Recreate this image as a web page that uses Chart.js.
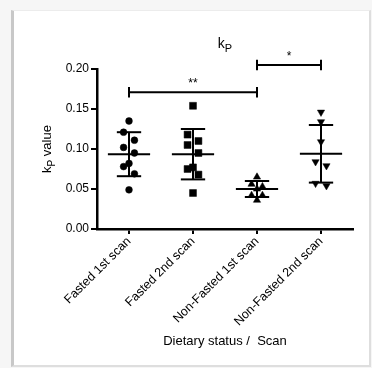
<!DOCTYPE html>
<html>
<head>
<meta charset="utf-8">
<title>kP</title>
<script src="https://cdn.jsdelivr.net/npm/chart.js@4.4.1/dist/chart.umd.min.js"></script>
<style>
  html, body { margin: 0; padding: 0; background: #f6f6f6; }
  #frame {
    position: absolute; left: 11px; top: 10px; width: 355px; height: 354px;
    background: #fff;
    border-left: 3px solid #c8c8c8; border-right: 2px solid #dedede;
    border-bottom: 2px solid #dedede; border-top: 1px solid #ececec;
  }
  #kpChart { position: absolute; left: 0; top: 0; }
</style>
</head>
<body>
<div id="frame"></div>
<canvas id="kpChart" width="372" height="368"></canvas>
<script>
// ===== DATA =====
const categories = ["Fasted 1st scan", "Fasted 2nd scan", "Non-Fasted 1st scan", "Non-Fasted 2nd scan"];
const fasted1 = [0.135, 0.121, 0.111, 0.102, 0.095, 0.082, 0.078, 0.069, 0.049];
const fasted2 = [0.154, 0.118, 0.110, 0.105, 0.095, 0.077, 0.075, 0.068, 0.045];
const nonFasted1 = [0.065, 0.056, 0.053, 0.050, 0.042, 0.042, 0.036];
const nonFasted2 = [0.146, 0.134, 0.109, 0.084, 0.079, 0.057, 0.054];
const groupMeans = [0.0935, 0.0935, 0.050, 0.094];
const groupSD = [0.0275, 0.0315, 0.010, 0.036];
const yTicks = [0, 0.05, 0.10, 0.15, 0.20];
const sigFrom = [0, 2];
const sigTo = [2, 3];
const sigLevels = [0.171, 0.205];
const sigLabels = ["**", "*"];

const FONT = '"Liberation Sans", Arial, sans-serif';
const groups = [fasted1, fasted2, nonFasted1, nonFasted2];
const markers = ["circle", "rect", "triangle", "triangle"];
const markerRot = [0, 0, 0, 180];
const markerSize = [3.4, 4.9, 4.2, 4.2];

// column scatter: spread close values over three columns
function jitterSlots(values) {
  const order = values.map((v, i) => i).sort((a, b) => values[b] - values[a]);
  const slots = new Array(values.length).fill(0);
  let cluster = [order[0]];
  const flush = () => {
    cluster.forEach((idx, k) => {
      if (cluster.length === 1) slots[idx] = 0;
      else if (cluster.length % 2) slots[idx] = [0, -1, 1][k % 3];
      else slots[idx] = k % 2 ? 1 : -1;
    });
  };
  for (let k = 1; k < order.length; k++) {
    if (values[order[k - 1]] - values[order[k]] < 0.0112) cluster.push(order[k]);
    else { flush(); cluster = [order[k]]; }
  }
  flush();
  return slots;
}

function seg(x1, y1, x2, y2) {
  return {
    type: "line",
    data: [{ x: x1, y: y1 }, { x: x2, y: y2 }],
    borderColor: "#000",
    borderWidth: 2,
    pointRadius: 0,
    clip: false
  };
}

const datasets = [];
groups.forEach((vals, g) => {
  const slots = jitterSlots(vals);
  datasets.push({
    type: "scatter",
    data: vals.map((v, i) => ({ x: g + 1 + slots[i] * 0.085, y: v })),
    pointStyle: markers[g],
    rotation: markerRot[g],
    pointRadius: markerSize[g],
    backgroundColor: "#000",
    borderColor: "#000",
    borderWidth: 0.5
  });
  const m = groupMeans[g], s = groupSD[g], c = g + 1;
  datasets.push(seg(c - 0.33, m, c + 0.33, m));
  datasets.push(seg(c, m - s, c, m + s));
  datasets.push(seg(c - 0.19, m + s, c + 0.19, m + s));
  datasets.push(seg(c - 0.19, m - s, c + 0.19, m - s));
});
sigLevels.forEach((lv, k) => {
  const a = sigFrom[k] + 1, b = sigTo[k] + 1;
  datasets.push(seg(a, lv, b, lv));
  datasets.push(seg(a, lv - 0.0065, a, lv + 0.0065));
  datasets.push(seg(b, lv - 0.0065, b, lv + 0.0065));
});

// ===== TEXTS (subscripts) =====
function drawSub(ctx, main, sub, rest, x, y, size) {
  ctx.font = size + "px " + FONT;
  const w1 = ctx.measureText(main).width;
  const w3 = ctx.measureText(rest).width;
  ctx.font = Math.round(size * 0.78) + "px " + FONT;
  const w2 = ctx.measureText(sub).width;
  let px = x - (w1 + w2 + w3) / 2;
  ctx.textAlign = "left";
  ctx.textBaseline = "alphabetic";
  ctx.font = size + "px " + FONT;
  ctx.fillText(main, px, y);
  px += w1;
  ctx.font = Math.round(size * 0.78) + "px " + FONT;
  ctx.fillText(sub, px, y + size * 0.28);
  px += w2;
  ctx.font = size + "px " + FONT;
  ctx.fillText(rest, px, y);
}

const textPlugin = {
  id: "texts",
  afterDraw(chart) {
    const { ctx, chartArea, scales } = chart;
    ctx.save();
    ctx.fillStyle = "#000";
    const cx = (chartArea.left + chartArea.right) / 2;
    drawSub(ctx, "k", "P", "", cx, 48, 14);

    ctx.save();
    ctx.translate(51, (chartArea.top + chartArea.bottom) / 2);
    ctx.rotate(-Math.PI / 2);
    drawSub(ctx, "k", "P", " value", 0, 0, 13);
    ctx.restore();

    ctx.font = "13px " + FONT;
    ctx.textAlign = "center";
    ctx.textBaseline = "middle";
    ctx.fillText("Dietary status /  Scan", cx, 341);

    ctx.font = "12px " + FONT;
    ctx.textBaseline = "alphabetic";
    sigLevels.forEach((lv, k) => {
      const x = scales.x.getPixelForValue((sigFrom[k] + sigTo[k]) / 2 + 1);
      ctx.fillText(sigLabels[k], x, scales.y.getPixelForValue(lv) - 5);
    });
    ctx.restore();
  }
};

new Chart(document.getElementById("kpChart").getContext("2d"), {
  type: "scatter",
  data: { datasets: datasets },
  options: {
    responsive: false,
    animation: false,
    devicePixelRatio: 1,
    layout: { padding: { top: 69, right: 19, left: 0, bottom: 0 } },
    plugins: { legend: { display: false }, tooltip: { enabled: false } },
    scales: {
      x: {
        type: "linear",
        min: 0.5,
        max: 4.5,
        afterBuildTicks: s => { s.ticks = categories.map((c, i) => ({ value: i + 1 })); },
        afterFit: s => { s.height = 139; },
        ticks: {
          callback: v => categories[v - 1],
          minRotation: 45,
          maxRotation: 45,
          autoSkip: false,
          padding: 0,
          color: "#000",
          font: { family: FONT, size: 12.5 }
        },
        grid: { drawOnChartArea: false, drawTicks: true, tickLength: 5, color: "#000", lineWidth: 2 },
        border: { display: true, color: "#000", width: 2.5 }
      },
      y: {
        min: 0,
        max: 0.2,
        afterBuildTicks: s => { s.ticks = yTicks.map(v => ({ value: v })); },
        afterFit: s => { s.width = 97; },
        ticks: {
          callback: v => v.toFixed(2),
          padding: 2,
          color: "#000",
          font: { family: FONT, size: 12 }
        },
        grid: { drawOnChartArea: false, drawTicks: true, tickLength: 6, color: "#000", lineWidth: 2 },
        border: { display: true, color: "#000", width: 2.5 }
      }
    }
  },
  plugins: [textPlugin]
});
</script>
</body>
</html>
